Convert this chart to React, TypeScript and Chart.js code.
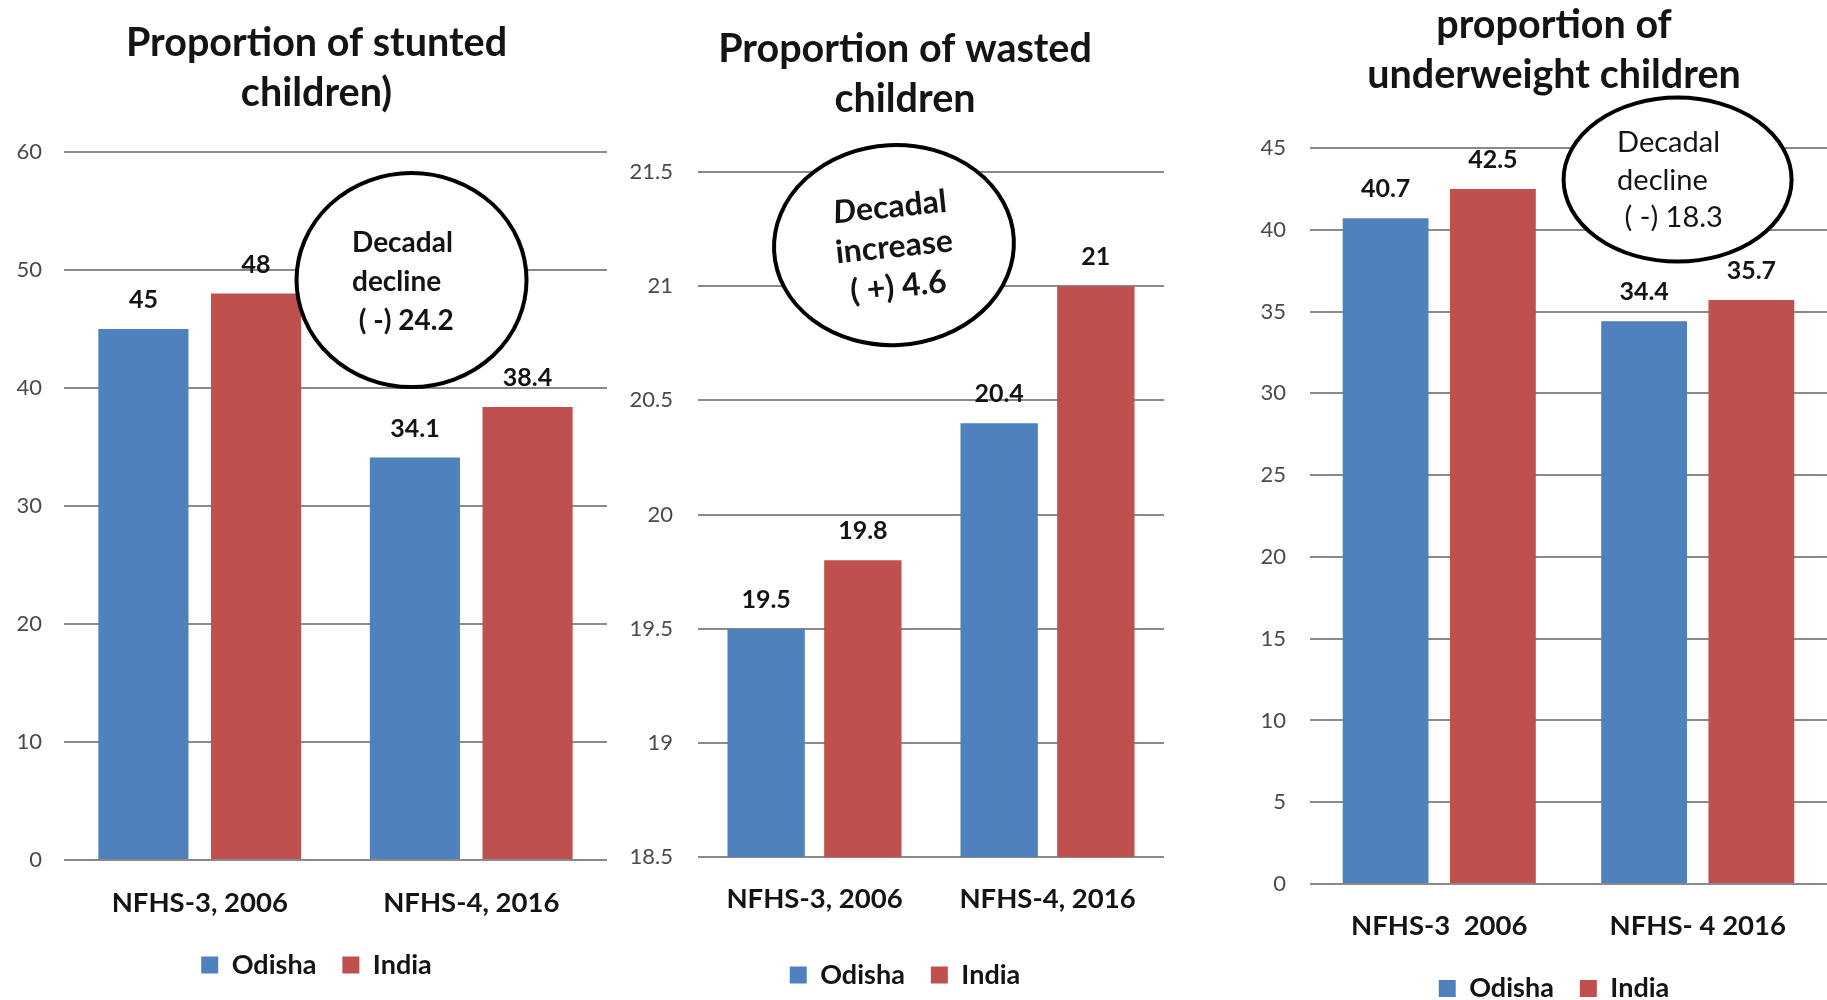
import React, { useEffect, useRef } from 'react';
import { Chart, registerables } from 'chart.js';

Chart.register(...registerables);

// ---------------- DATA ----------------
const seriesNames = ['Odisha', 'India'];

const stuntedTitle = ['Proportion of stunted', 'children)'];
const stuntedCategories = ['NFHS-3, 2006', 'NFHS-4, 2016'];
const stuntedOdisha = [45, 34.1];
const stuntedIndia = [48, 38.4];
const stuntedTicks = [0, 10, 20, 30, 40, 50, 60];
const stuntedNote = ['Decadal', 'decline', ' ( -) 24.2'];

const wastedTitle = ['Proportion of wasted', 'children'];
const wastedCategories = ['NFHS-3, 2006', 'NFHS-4, 2016'];
const wastedOdisha = [19.5, 20.4];
const wastedIndia = [19.8, 21];
const wastedTicks = [18.5, 19, 19.5, 20, 20.5, 21, 21.5];
const wastedNote = ['Decadal', 'increase', '( +) 4.6'];

const underweightTitle = ['proportion of', 'underweight children'];
const underweightCategories = ['NFHS-3  2006', 'NFHS- 4 2016'];
const underweightOdisha = [40.7, 34.4];
const underweightIndia = [42.5, 35.7];
const underweightTicks = [0, 5, 10, 15, 20, 25, 30, 35, 40, 45];
const underweightNote = ['Decadal', 'decline', ' ( -) 18.3'];

// ---------------- STYLE ----------------
const BLUE = '#4F81BD';
const RED = '#C0504D';
const GRID = '#8a8a8a';
const TEXT = '#141414';
const TICK = '#4a4a4a';
const FONT = 'Lato';

type Note = {
  lines: string[];
  xValue: number;
  yValue: number;
  rx: number;
  ry: number;
  rotation: number;
  textRotation: number;
  lineWidth: number;
  textDx: number;
  textDy: number;
  lineGap: number;
  align: 'left' | 'center';
  size: number;
  weight: string;
  italicFirstLetter?: boolean;
};

type PanelCfg = {
  left: number;
  width: number;
  height: number;
  padBottom: number;
  titleLines: string[];
  titleTop: number;
  titleBottom: number;
  categories: string[];
  odisha: number[];
  india: number[];
  ticks: number[];
  yAxisWidth: number;
  rightGap: number;
  yTickPadding: number;
  xAxisHeight: number;
  xTickPadding: number;
  note: Note;
};

function makeValueLabelPlugin() {
  return {
    id: 'valueLabels',
    afterDatasetsDraw(chart: any) {
      const ctx = chart.ctx;
      ctx.save();
      ctx.font = `bold 25px ${FONT}`;
      ctx.fillStyle = TEXT;
      ctx.textAlign = 'center';
      ctx.textBaseline = 'middle';
      chart.data.datasets.forEach((ds: any, di: number) => {
        const meta = chart.getDatasetMeta(di);
        meta.data.forEach((bar: any, i: number) => {
          ctx.fillText(String(ds.data[i]), bar.x, bar.y - 29);
        });
      });
      ctx.restore();
    },
  };
}

function makeNotePlugin(note: Note) {
  return {
    id: 'ellipseNote',
    afterDraw(chart: any) {
      const { ctx, scales } = chart;
      const cx = scales.x.getPixelForValue(note.xValue);
      const cy = scales.y.getPixelForValue(note.yValue);
      ctx.save();
      ctx.beginPath();
      ctx.ellipse(cx, cy, note.rx, note.ry, (note.rotation * Math.PI) / 180, 0, Math.PI * 2);
      ctx.fillStyle = '#ffffff';
      ctx.fill();
      ctx.lineWidth = note.lineWidth;
      ctx.strokeStyle = '#000000';
      ctx.stroke();
      ctx.translate(cx + note.textDx, cy);
      ctx.rotate((note.textRotation * Math.PI) / 180);
      ctx.fillStyle = TEXT;
      ctx.textBaseline = 'middle';
      ctx.textAlign = 'left';
      const plain = `${note.weight} ${note.size}px ${FONT}`;
      const italic = `italic ${note.weight} ${note.size}px ${FONT}`;
      note.lines.forEach((line, i) => {
        const y = note.textDy + i * note.lineGap;
        const segs =
          i === 0 && note.italicFirstLetter
            ? [
                { t: line.slice(0, 1), f: italic },
                { t: line.slice(1), f: plain },
              ]
            : [{ t: line, f: plain }];
        const widths = segs.map((s) => {
          ctx.font = s.f;
          return ctx.measureText(s.t).width;
        });
        const total = widths.reduce((a, b) => a + b, 0);
        let x = note.align === 'center' ? -total / 2 : 0;
        segs.forEach((s, k) => {
          ctx.font = s.f;
          ctx.fillText(s.t, x, y);
          x += widths[k];
        });
      });
      ctx.restore();
    },
  };
}

const panels: PanelCfg[] = [
  {
    left: 0,
    width: 633,
    height: 1000,
    padBottom: 11.5,
    titleLines: stuntedTitle,
    titleTop: 18,
    titleBottom: 34,
    categories: stuntedCategories,
    odisha: stuntedOdisha,
    india: stuntedIndia,
    ticks: stuntedTicks,
    yAxisWidth: 64,
    rightGap: 26,
    yTickPadding: 22,
    xAxisHeight: 65.5,
    xTickPadding: 19,
    note: {
      lines: stuntedNote,
      xValue: 0.78,
      yValue: 49.15,
      rx: 115,
      ry: 107,
      rotation: 0,
      textRotation: 0,
      lineWidth: 4,
      textDx: -59.5,
      textDy: -37,
      lineGap: 39,
      align: 'left',
      size: 28,
      weight: 'bold',
    },
  },
  {
    left: 610,
    width: 590,
    height: 1000,
    padBottom: 1.5,
    titleLines: wastedTitle,
    titleTop: 24,
    titleBottom: 48,
    categories: wastedCategories,
    odisha: wastedOdisha,
    india: wastedIndia,
    ticks: wastedTicks,
    yAxisWidth: 88,
    rightGap: 36,
    yTickPadding: 25,
    xAxisHeight: 78.5,
    xTickPadding: 18,
    note: {
      lines: wastedNote,
      xValue: 0.341,
      yValue: 21.18,
      rx: 120,
      ry: 100,
      rotation: -3,
      textRotation: -6,
      lineWidth: 4,
      textDx: 0,
      textDy: -38,
      lineGap: 40,
      align: 'center',
      size: 32,
      weight: 'bold',
      italicFirstLetter: true,
    },
  },
  {
    left: 1250,
    width: 608,
    height: 1012,
    padBottom: 0,
    titleLines: underweightTitle,
    titleTop: 0,
    titleBottom: 48,
    categories: underweightCategories,
    odisha: underweightOdisha,
    india: underweightIndia,
    ticks: underweightTicks,
    yAxisWidth: 60,
    rightGap: 31,
    yTickPadding: 24,
    xAxisHeight: 65,
    xTickPadding: 18,
    note: {
      lines: underweightNote,
      xValue: 0.922,
      yValue: 43.07,
      rx: 114,
      ry: 82,
      rotation: 0,
      textRotation: 0,
      lineWidth: 4,
      textDx: -60.5,
      textDy: -36.5,
      lineGap: 37.5,
      align: 'left',
      size: 29,
      weight: 'normal',
    },
  },
];

function BarPanel({ cfg }: { cfg: PanelCfg }) {
  const ref = useRef<HTMLCanvasElement>(null);
  useEffect(() => {
    if (!ref.current) return;
    const chart = new Chart(ref.current, {
      type: 'bar',
      data: {
        labels: cfg.categories,
        datasets: [
          { label: seriesNames[0], data: cfg.odisha, backgroundColor: BLUE, borderWidth: 0 },
          { label: seriesNames[1], data: cfg.india, backgroundColor: RED, borderWidth: 0 },
        ],
      },
      plugins: [makeValueLabelPlugin(), makeNotePlugin(cfg.note)],
      options: {
        responsive: false,
        animation: false,
        devicePixelRatio: 1,
        layout: { padding: { left: 0, right: 0, top: 0, bottom: cfg.padBottom } },
        datasets: { bar: { categoryPercentage: 0.83, barPercentage: 0.8 } },
        plugins: {
          title: {
            display: true,
            text: cfg.titleLines,
            color: TEXT,
            font: { family: FONT, size: 39.5, weight: 'bold', lineHeight: 50 / 39.5 },
            padding: { top: cfg.titleTop, bottom: cfg.titleBottom },
          },
          legend: {
            position: 'bottom',
            labels: {
              color: TEXT,
              font: { family: FONT, size: 27, weight: 'bold' },
              boxWidth: 17,
              boxHeight: 17,
              padding: 26,
            },
          },
          tooltip: { enabled: false },
        },
        scales: {
          x: {
            grid: { display: false },
            border: { display: false },
            ticks: {
              color: TEXT,
              font: { family: FONT, size: 27.5, weight: 'bold' },
              padding: cfg.xTickPadding,
              maxRotation: 0,
            },
            afterFit: (s: any) => {
              s.height = cfg.xAxisHeight;
            },
          },
          y: {
            min: cfg.ticks[0],
            max: cfg.ticks[cfg.ticks.length - 1],
            afterBuildTicks: (s: any) => {
              s.ticks = cfg.ticks.map((v) => ({ value: v }));
            },
            grid: { color: GRID, lineWidth: 2, drawTicks: false },
            border: { display: false },
            ticks: {
              color: TICK,
              font: { family: FONT, size: 22 },
              padding: cfg.yTickPadding,
              callback: (v: any) => String(v),
            },
            afterFit: (s: any) => {
              s.width = cfg.yAxisWidth;
            },
          },
          yRight: {
            type: 'linear',
            position: 'right',
            display: true,
            grid: { display: false },
            border: { display: false },
            ticks: { display: false },
            afterFit: (s: any) => {
              s.width = cfg.rightGap;
            },
          },
        },
      } as any,
    });
    return () => chart.destroy();
  }, [cfg]);
  return (
    <div style={{ position: 'absolute', left: cfg.left, top: 0, width: cfg.width, height: cfg.height }}>
      <canvas
        ref={ref}
        width={cfg.width}
        height={cfg.height}
        style={{ width: cfg.width, height: cfg.height, display: 'block' }}
      />
    </div>
  );
}

export default function App() {
  return (
    <div
      style={{
        position: 'fixed',
        left: 0,
        top: 0,
        width: 1827,
        height: 1000,
        overflow: 'hidden',
        background: '#ffffff',
      }}
    >
      {panels.map((p, i) => (
        <BarPanel key={i} cfg={p} />
      ))}
    </div>
  );
}
